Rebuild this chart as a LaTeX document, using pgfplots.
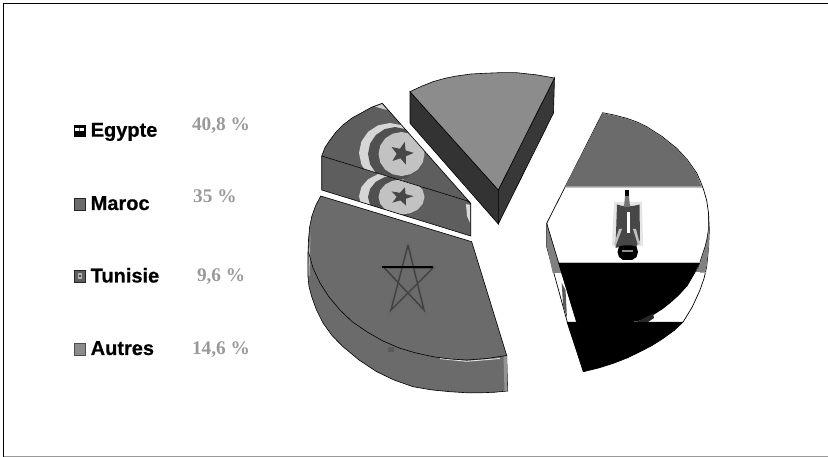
\documentclass[border=0pt]{standalone}
\usepackage{fontspec}
\setmainfont{Liberation Sans}
\newfontfamily\legfont[BoldFeatures={FakeBold=0.5}]{Liberation Sans}
\newfontfamily\valfont{Liberation Serif}
\usepackage{pgfplots}
\usepackage{pgfplotstable}
\pgfplotsset{compat=1.18}
\definecolor{redgray}{gray}{0.42}
\definecolor{tungray}{gray}{0.37}
\definecolor{autgray}{gray}{0.55}
\definecolor{autdark}{gray}{0.2}
\definecolor{valgray}{gray}{0.6}
\pgfplotsset{pxaxis/.style={at={(0,0)},anchor=south west,scale only axis,
  width=828pt,height=457pt,xmin=0,xmax=828,ymin=0,ymax=457,y dir=reverse,
  hide axis,clip=false,no markers}}
\tikzset{leglabel/.style={anchor=base west,inner sep=0pt,font=\legfont\fontsize{20}{21}\selectfont\bfseries},
  vallabel/.style={anchor=base west,inner sep=0pt,text=valgray,font=\valfont\fontsize{19.3}{20}\selectfont\bfseries}}

% Emblem of the Tunisian flag, on the top face of its slice
\pgfplotstableread{
x y
421 153
418.6 164.5
411.9 174.2
401.9 180.7
390 183
378.1 180.7
368.1 174.2
361.4 164.5
359 153
361.4 141.5
368.1 131.8
378.1 125.3
390 123
401.9 125.3
411.9 131.8
418.6 141.5
}\outerdisc
\pgfplotstableread{
x y
422 154
419.9 164.3
414.1 173.1
405.3 178.9
395 181
384.7 178.9
375.9 173.1
370.1 164.3
368 154
370.1 143.7
375.9 134.9
384.7 129.1
395 127
405.3 129.1
414.1 134.9
419.9 143.7
}\crescent
\pgfplotstableread{
x y
424.5 154
422.8 162.4
417.8 169.6
410.3 174.3
401.5 176
392.7 174.3
385.2 169.6
380.2 162.4
378.5 154
380.2 145.6
385.2 138.4
392.7 133.7
401.5 132
410.3 133.7
417.8 138.4
422.8 145.6
}\innerdisc
\pgfplotstableread{
x y
404.8 141.9
405.6 150.4
413.7 152.9
405.9 156.2
406 164.7
400.4 158.3
392.4 161
396.7 153.8
391.6 147
399.9 148.8
}\tunstar

% #1, #2: vertical scale and offset of the emblem on the face it is painted on
\newcommand{\tunflag}[2]{%
  \addplot[fill=black!16,draw=none] table[y expr=\thisrow{y}*#1+#2] {\outerdisc} --cycle;
  \addplot[fill=tungray!85!black,draw=none] table[y expr=\thisrow{y}*#1+#2] {\crescent} --cycle;
  \addplot[fill=black!24,draw=none] table[y expr=\thisrow{y}*#1+#2] {\innerdisc} --cycle;
  \addplot[fill=black!72,draw=none] table[y expr=\thisrow{y}*#1+#2] {\tunstar} --cycle;
}

\begin{document}
\begin{tikzpicture}
\useasboundingbox (0,0) rectangle (828pt,457pt);

% Frame, legend and the slices' flat colours
\begin{axis}[pxaxis]
  \addplot[draw=black,line width=1.3pt] coordinates {(3.6,457) (3.6,3.6) (828,3.6)};
  \addplot[draw=black!40,line width=1.2pt] coordinates {(3.6,456.2) (828,456.2)};

  % Legend keys
  \addplot[fill=black,draw=black] coordinates {(74,125.5) (85,125.5) (85,136) (74,136)} --cycle;
  \addplot[fill=white,draw=none] coordinates {(75.3,128) (83.7,128) (83.7,131.5) (75.3,131.5)} --cycle;
  \addplot[fill=black!60,draw=none] coordinates {(78.8,128) (80.2,128) (80.2,131.5) (78.8,131.5)} --cycle;
  \addplot[fill=redgray,draw=black!85,line width=0.9pt] coordinates {(74.5,198) (85.5,198) (85.5,210) (74.5,210)} --cycle;
  \addplot[fill=tungray,draw=black!85,line width=0.9pt] coordinates {(74.5,270.5) (85,270.5) (85,282) (74.5,282)} --cycle;
  \addplot[fill=black!30,draw=none] coordinates {(77.5,273.5) (82,273.5) (82,279) (77.5,279)} --cycle;
  \addplot[fill=black!70,draw=none] coordinates {(79,275) (80.5,275) (80.5,277.5) (79,277.5)} --cycle;
  \addplot[fill=autgray,draw=black!70,line width=0.7pt] coordinates {(74.5,343.5) (85,343.5) (85,355) (74.5,355)} --cycle;

  \node[leglabel] at (axis cs:90.5,136.7) {Egypte};
  \node[leglabel] at (axis cs:90.5,210) {Maroc};
  \node[leglabel] at (axis cs:90.5,282.5) {Tunisie};
  \node[leglabel] at (axis cs:90.5,355) {Autres};
  \node[vallabel] at (axis cs:191.8,131) {40,8 \%};
  \node[vallabel] at (axis cs:193,202.5) {35 \%};
  \node[vallabel] at (axis cs:196.8,281.5) {9,6 \%};
  \node[vallabel] at (axis cs:191.8,355) {14,6 \%};

  % Autres slice
  \addplot[fill=autdark,draw=black,line width=0.6pt] coordinates {(410,91.7) (498.3,190) (498.3,224) (410,123.3)} --cycle;
  \addplot[fill=black!78,draw=black,line width=0.6pt] coordinates {(498.3,190) (554.5,78) (553.5,113) (498.3,224)} --cycle;
  \addplot[fill=autgray,draw=black,line width=0.6pt] coordinates {(410,91.7) (421,86.5) (433,81.7) (445,78.3) (456.7,76) (471,74) (486.7,73.2) (502,72.6) (516.7,72.7) (536,74.8) (554.5,78) (498.3,190)} --cycle;

  % Maroc slice
  \addplot[fill=redgray,draw=black,line width=0.6pt] coordinates {(320.7,196) (471.7,241.7) (506.7,355.5) (507.7,391) (495,392.2) (483,392.7) (466,392.7) (450,391.7) (431,389.8) (413,386.7) (394,380) (376.7,371.7) (359,360) (343,346.7) (332,335.5) (323,323) (316.5,310) (311.7,296.7) (309,286.5) (308,276.7) (307.8,258) (308.5,240) (309.5,228) (311.7,216.7) (315.5,206)} --cycle;

  % Tunisie slice
  \addplot[fill=tungray,draw=none] coordinates {(321.7,156) (466.7,200.7) (470.7,203.3) (470.7,236) (321.7,190)} --cycle;
  \addplot[fill=tungray,draw=none] coordinates {(382.3,103.3) (372,107) (363,112) (352,118) (343,125) (336,132) (330,140) (325,147.5) (321.7,156) (466.7,200.7) (470.7,203.3)} --cycle;
\end{axis}

% Flag emblem cut to the top face
\begin{scope}
\clip (382.3pt,353.7pt) -- (372pt,350pt) -- (363pt,345pt) -- (352pt,339pt) -- (343pt,332pt) -- (336pt,325pt) -- (330pt,317pt) -- (325pt,309.5pt) -- (321.7pt,301pt) -- (466.7pt,256.3pt) -- (470.7pt,253.7pt) -- cycle;
\begin{axis}[pxaxis]
  \tunflag{1}{0}
\end{axis}
\end{scope}

% The same emblem, flattened, cut to the side face
\begin{scope}
\clip (321.7pt,301pt) -- (466.7pt,256.3pt) -- (470.7pt,253.7pt) -- (470.7pt,221pt) -- (321.7pt,267pt) -- cycle;
\begin{axis}[pxaxis]
  \tunflag{0.8}{73.8}
\end{axis}
\end{scope}

\begin{axis}[pxaxis]
  % Tunisie: light slivers and outlines
  \addplot[fill=black!20,draw=none] coordinates {(375,106.7) (382,104) (387,110)} --cycle;
  \addplot[fill=black!15,draw=none] coordinates {(466,204) (470,205) (470,223) (467,216)} --cycle;
  \addplot[draw=black,line width=0.6pt] coordinates {(470.7,203.3) (382.3,103.3) (372,107) (363,112) (352,118) (343,125) (336,132) (330,140) (325,147.5) (321.7,156) (466.7,200.7) (470.7,203.3) (470.7,236) (321.7,190) (321.7,156)};

  % Maroc: highlights, rim and pentagram
  \addplot[fill=black!42,draw=none] coordinates {(503.5,356.5) (507,356) (507.5,390.5) (504.5,391)} --cycle;
  \addplot[fill=black!28,draw=none] coordinates {(310.5,233) (309,252) (308.5,276) (309.5,276)} --cycle;
  \addplot[draw=black!10,line width=0.9pt] coordinates {(440,358.6) (466.7,361.3) (500,358.5)};
  \addplot[draw=black,line width=0.6pt] coordinates {(308.5,252) (313,268) (320,283) (329,297) (340,310) (352,321.5) (366.7,331.7) (383,341) (400,348.3) (416,353) (433,356.7) (450,359) (466.7,360) (487,358.5) (506.7,355.5)};
  \addplot[draw=black!60,line width=4pt,opacity=0.3] coordinates {(408,243) (425,311.7) (382,267.3) (435,268) (390,311.7) (408,243)};
  \addplot[draw=black!80,line width=1.4pt,opacity=0.75] coordinates {(408,245) (424,310) (384,267.5) (433,268) (391,310) (408,245)};
  \addplot[draw=black,line width=1.2pt] coordinates {(382,267) (433,267)};
  \addplot[fill=black!75,draw=none,opacity=0.4] coordinates {(388,347) (394,347) (394,352) (388,352)} --cycle;

  % Egypte slice: silhouette of the two faces
  \addplot[fill=white,draw=black,line width=0.7pt] coordinates {(602.7,112.7) (614,115) (626.7,118.3) (637,122) (646.7,126.7) (662,136.5) (676.7,148.3) (687.5,160) (696.7,173) (700.5,181.5) (703.7,190) (706.8,201) (708.5,213) (709.3,230) (708.6,247) (706.7,266.7) (704,278.5) (700,290) (692.5,306.5) (683.3,321.7) (674,330.5) (663.3,338.3) (652,345.5) (640,351.7) (627,358) (613.3,363.3) (598.5,368) (583.3,371.7) (566.7,320) (546.7,246.7) (546.7,223.3)} --cycle;
  % red band
  \addplot[fill=redgray,draw=none] coordinates {(602.7,113.2) (614,115.5) (626.7,118.8) (637,122.5) (646.7,127.2) (662,137) (676.4,148.7) (687,160.3) (696.3,173.2) (701.7,186.7) (565,186.7)} --cycle;
  % red band seen on the rim
  \addplot[fill=black!50,draw=none] coordinates {(708.6,226) (708.8,246.7) (706.4,266.7) (705,272) (695.5,272) (698.3,266.7) (705,246.7) (708.3,230)} --cycle;
  \addplot[fill=black!50,draw=none] coordinates {(547,224) (562,273) (552.7,273) (547,247)} --cycle;
  \addplot[fill=black!65,draw=none] coordinates {(561.7,283) (565.5,290) (567,318) (563,305)} --cycle;
  % black band, top face and rim
  \addplot[fill=black,draw=none] coordinates {(558.3,263) (699.7,263) (693.5,275) (686.7,286.7) (678.7,295.5) (670,303.3) (662,309.5) (653.3,315) (636.7,321.7) (576.7,322.7)} --cycle;
  \addplot[fill=black,draw=none] coordinates {(566.7,322) (683.3,322) (674,330.5) (663.3,338.3) (652,345.5) (640,351.7) (627,358) (613.3,363.3) (598.5,368) (583.3,371.7)} --cycle;
  \addplot[fill=black!85,draw=none] coordinates {(636.7,322) (653,313.5) (654,318) (648,322)} --cycle;
  % edges between top face and rim
  \addplot[draw=black,line width=0.6pt] coordinates {(546.7,223.3) (576.7,322.7)};
  \addplot[draw=black,line width=0.5pt] coordinates {(708.5,213) (708.3,230) (707,239) (705,246.7) (698.3,266.7) (693.5,275) (686.7,286.7)};
  % band edges, slightly soft
  \addplot[draw=black!25,line width=0.8pt] coordinates {(565.5,187) (701.5,187)};
  \addplot[draw=black!25,line width=0.8pt] coordinates {(558.5,262.5) (699.5,262.5)};
  \addplot[draw=black!35,line width=1.5pt] coordinates {(700,272.5) (706,272.5)};
  % eagle
  \addplot[fill=black!10,draw=none] coordinates {(614,202) (642,202) (643,246) (612,246)} --cycle;
  \addplot[fill=black!72,draw=none] coordinates {(617,204.5) (622.5,206) (633,206) (639.5,204.5) (640,240) (636,247) (619,247) (615.5,248)} --cycle;
  \addplot[fill=black!55,draw=none] coordinates {(625,196) (629,196) (630,207) (624,207)} --cycle;
  \addplot[fill=black,draw=none] coordinates {(624.5,190) (629,190) (629,196) (624.5,196)} --cycle;
  \addplot[fill=white,draw=none] coordinates {(627.3,212) (629.5,212) (629.5,233) (627.3,233)} --cycle;
  \addplot[fill=black!25,draw=none] coordinates {(619,229) (622,229) (616,245) (614,244)} --cycle;
  \addplot[fill=black!25,draw=none] coordinates {(633,229) (636,229) (640,244) (638,245)} --cycle;
  \addplot[fill=black,draw=none] coordinates {(619,246.5) (623,245.5) (632,245.5) (636.5,246.5) (638,252) (636.5,257) (632,260) (623,260) (619,257) (617.5,252)} --cycle;
  \addplot[fill=black!45,draw=none] coordinates {(622,250) (633,250) (633,252) (622,252)} --cycle;
\end{axis}
\end{tikzpicture}
\end{document}
